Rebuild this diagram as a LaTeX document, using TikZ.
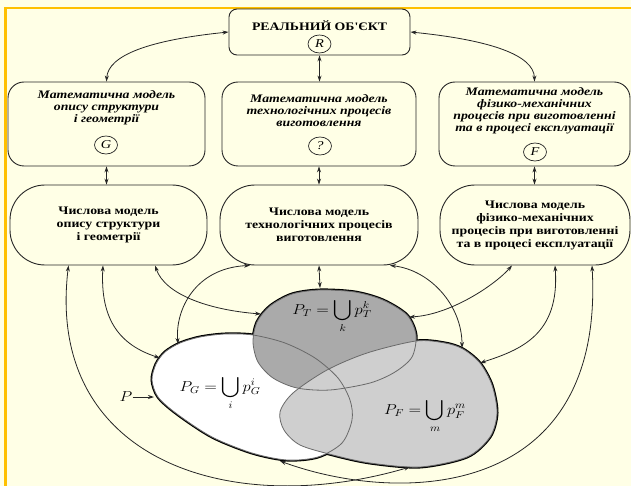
\documentclass[tikz,border=0pt]{standalone}
\usepackage{fontspec}
\usepackage{amsmath}
\newfontfamily\diagfont{Liberation Serif}[FakeStretch=1.2]
\usetikzlibrary{arrows.meta,shapes.geometric}

\definecolor{bgyellow}{RGB}{255,255,230}
\definecolor{frameorange}{RGB}{255,192,0}
\definecolor{setT}{RGB}{170,170,170}
\definecolor{setF}{RGB}{207,207,207}
\definecolor{edgegray}{RGB}{105,105,105}

\tikzset{
  mmbox/.style={draw=black!85, line width=0.9pt, rounded corners=16pt, minimum height=84pt, inner sep=0pt},
  numbox/.style={draw=black!85, line width=0.9pt, rounded corners=35pt, minimum height=80pt, inner sep=0pt,
    align=center, font=\diagfont\fontsize{11.5}{13}\selectfont\bfseries},
  mmtext/.style={font=\diagfont\fontsize{11.5}{12}\selectfont\bfseries\itshape, align=center, inner sep=0pt},
  symb/.style={ellipse, draw=black!85, line width=0.7pt, minimum width=23pt, minimum height=18pt, inner sep=0pt,
    font=\diagfont\fontsize{12}{12}\selectfont\itshape},
  settext/.style={font=\fontsize{14.4}{16}\selectfont, inner sep=0pt},
  link/.style={{Stealth[length=6pt,width=4pt]}-{Stealth[length=6pt,width=4pt]}, line width=0.8pt, draw=black!85},
}

\begin{document}
\begin{tikzpicture}[x=1pt,y=-1pt]
  \useasboundingbox (0,0) rectangle (631,486);
  \fill[bgyellow] (0,0) rectangle (631,486);
  \draw[frameorange, line width=2.2pt] (5.5,486) -- (5.5,8) -- (631,8);

  % Real object
  \node[draw=black!85, line width=0.9pt, rounded corners=8pt, minimum width=181pt, minimum height=46pt] (real) at (319.5,32) {};
  \node[font=\diagfont\fontsize{11.5}{13}\selectfont\bfseries, inner sep=0pt] (realtxt) at (319.5,26) {РЕАЛЬНИЙ ОБ'ЄКТ};
  \node[symb] (symR) at (319.5,44) {R};

  % Mathematical models
  \node[mmbox, minimum width=197pt] (mmG) at (106.5,124) {};
  \node[mmbox, minimum width=194pt] (mmT) at (319,124) {};
  \node[mmbox, minimum width=191pt] (mmF) at (534.5,124) {};
  \node[mmtext] (mmGtxt) at (106.5,108) {Математична модель\\опису структури\\і геометрії};
  \node[mmtext] (mmTtxt) at (319,111) {Математична модель\\технологічних процесів\\виготовлення};
  \node[mmtext] (mmFtxt) at (534.5,111) {Математична модель\\фізико-механічних\\процесів при виготовленні\\та в процесі експлуатації};
  \node[symb] (symG) at (106,145) {G};
  \node[symb] (symT) at (320,146) {?};
  \node[symb] (symF) at (535,152) {F};

  % Numerical models
  \node[numbox, minimum width=197pt] (numG) at (108.5,225) {Числова модель\\опису структури\\і геометрії};
  \node[numbox, minimum width=198pt] (numT) at (319,225) {Числова модель\\технологічних процесів\\виготовлення};
  \node[numbox, minimum width=190pt] (numF) at (535,225) {Числова модель\\фізико-механічних\\процесів при виготовленні\\та в процесі експлуатації};

  % Sets P_G, P_T, P_F
  \def\setG{plot[smooth cycle] coordinates {(152,380) (156,364) (165,352) (180,343) (200,337) (225,334) (253,335)
    (285,343) (315,358) (338,378) (350,400) (352,420) (342,443) (318,457) (287,460) (252,453) (212,437) (177,414) (158,397)}}
  \def\setT{plot[smooth cycle] coordinates {(320,290) (355,292) (383,300) (407,315) (416,335) (412,357) (395,372)
    (370,383) (330,390) (297,388) (273,378) (258,362) (253,342) (257,322) (270,306) (292,294)}}
  \def\setF{plot[smooth cycle] coordinates {(280,412) (293,393) (327,370) (367,353) (416,341) (445,343) (463,349)
    (480,363) (492,385) (497,413) (490,437) (467,457) (420,467) (370,463) (333,455) (300,445) (284,430)}}
  \draw[line width=3pt] \setG;
  \draw[line width=3pt] \setT;
  \draw[line width=3pt] \setF;
  \fill[white] \setG;
  \fill[setT] \setT;
  \fill[setF] \setF;
  \draw[edgegray, line width=0.8pt] \setG;
  \draw[edgegray, line width=0.8pt] \setT;
  \draw[edgegray, line width=0.8pt] \setF;

  \node[settext] (labT) at (332,316) {\scalebox{1.15}[1]{$P_T=\displaystyle\bigcup_k p_T^k$}};
  \node[settext] (labG) at (220,393) {\scalebox{1.15}[1]{$P_G=\displaystyle\bigcup_i p_G^i$}};
  \node[settext] (labF) at (425,416) {\scalebox{1.15}[1]{$P_F=\displaystyle\bigcup_m p_F^m$}};

  % Points on the set borders
  \coordinate (gLeft) at (160,358);
  \coordinate (gTop) at (178,344);
  \coordinate (gBot) at (280,461);
  \coordinate (gEdge) at (154,397);
  \coordinate (tLeft) at (261,314);
  \coordinate (tTop) at (320,288);
  \coordinate (tRight) at (409,317);
  \coordinate (fTop) at (462,348);
  \coordinate (fRight) at (480,363);
  \coordinate (fBot) at (410,467);

  % Upper links
  \draw[link] (real.west) .. controls (150,40) and (108,55) .. (mmG.north);
  \draw[link] (real.east) .. controls (490,40) and (534,55) .. (mmF.north);
  \draw[link] (real.south) -- (real.south |- mmT.north);
  \draw[link] (mmG.south) -- (mmG.south |- numG.north);
  \draw[link] (mmT.south) -- (mmT.south |- numT.north);
  \draw[link] (mmF.south) -- (mmF.south |- numF.north);

  % Links to the sets
  \draw[link] ([xshift=-40pt]numG.south) .. controls (45,460) and (230,520) .. (fBot);
  \draw[link] ([xshift=-5.5pt]numG.south) .. controls (100,320) and (120,345) .. (gLeft);
  \draw[link] ([xshift=46.5pt]numG.south) .. controls (165,295) and (210,310) .. (tLeft);
  \draw[link] ([xshift=-69pt]numT.south) .. controls (195,268) and (175,310) .. (gTop);
  \draw[link] (numT.south) -- (tTop);
  \draw[link] ([xshift=71pt]numT.south) .. controls (430,270) and (462,305) .. (fTop);
  \draw[link] ([xshift=-23pt]numF.south) .. controls (495,285) and (450,315) .. (tRight);
  \draw[link] ([xshift=20pt]numF.south) .. controls (560,335) and (520,350) .. (fRight);
  \draw[link] ([xshift=57pt]numF.south) .. controls (605,500) and (400,505) .. (gBot);

  % Whole set P
  \node[settext] (plabel) at (126,397) {\scalebox{1.15}[1]{$P$}};
  \draw[-{Stealth[length=6pt,width=4pt]}, line width=0.8pt, draw=black!85] (plabel.east) -- (gEdge);
\end{tikzpicture}
\end{document}
